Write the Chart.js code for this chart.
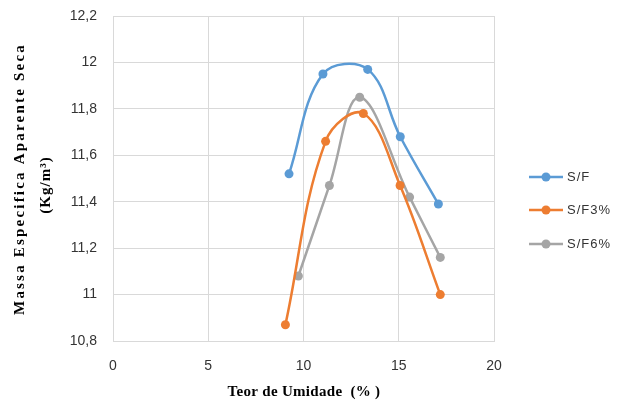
<!DOCTYPE html>
<html>
<head>
<meta charset="utf-8">
<script src="https://cdn.jsdelivr.net/npm/chart.js@4"></script>
<style>
html,body{margin:0;padding:0;background:#fff;}
#wrap{width:619px;height:406px;position:relative;}
</style>
</head>
<body>
<div id="wrap"><canvas id="c" width="619" height="406"></canvas></div>
<script>
// ---- data ----
const seriesNames = ["S/F", "S/F3%", "S/F6%"];
const xSF  = [9.24, 11.02, 13.37, 15.08, 17.08];
const ySF  = [11.52, 11.95, 11.97, 11.68, 11.39];
const xSF3 = [9.05, 11.16, 13.14, 15.07, 17.18];
const ySF3 = [10.87, 11.66, 11.78, 11.47, 11.00];
const xSF6 = [9.73, 11.36, 12.95, 15.57, 17.18];
const ySF6 = [11.08, 11.47, 11.85, 11.42, 11.16];
const xTicks = [0, 5, 10, 15, 20];
const yTicks = [10.8, 11, 11.2, 11.4, 11.6, 11.8, 12, 12.2];
const yTitle = ["Massa Especifica Aparente Seca", "(Kg/m³)"];
const xTitle = "Teor de Umidade  (% )";

const colors = ["#5B9BD5", "#ED7D31", "#A5A5A5"];
function pts(xs, ys){ return xs.map((x,i)=>({x:x, y:ys[i]})); }
const xsAll = [xSF, xSF3, xSF6], ysAll = [ySF, ySF3, ySF6];

const datasets = seriesNames.map((n,i)=>({
  label: n,
  data: pts(xsAll[i], ysAll[i]),
  borderColor: colors[i],
  backgroundColor: colors[i],
  borderWidth: 2.5,
  pointRadius: 4.5,
  pointHoverRadius: 4.5,
  pointBorderWidth: 0,
  showLine: true,
  tension: 0.38,
  fill: false
}));

const tickFont = {family: "'Liberation Sans', Arial, sans-serif", size: 14};
const tickColor = "#333333";
const gridColor = "#d9d9d9";

const titlesPlugin = {
  id: 'titles',
  afterDraw(chart){
    const ctx = chart.ctx;
    ctx.save();
    ctx.fillStyle = "#000";
    ctx.font = "bold 15px 'Liberation Serif', 'Times New Roman', serif";
    ctx.textAlign = "center";
    ctx.textBaseline = "middle";
    try { ctx.letterSpacing = "2.2px"; } catch(e){}
    // y title
    ctx.save();
    ctx.translate(20, 179);
    ctx.rotate(-Math.PI/2);
    ctx.fillText(yTitle[0], 0, 0);
    ctx.restore();
    try { ctx.letterSpacing = "1px"; } catch(e){}
    ctx.save();
    ctx.translate(46, 185);
    ctx.rotate(-Math.PI/2);
    ctx.fillText(yTitle[1], 0, 0);
    ctx.restore();
    try { ctx.letterSpacing = "0.3px"; } catch(e){}
    // x title
    ctx.fillText(xTitle, 304, 392);
    ctx.restore();
  }
};

const legendPlugin = {
  id: 'customLegend',
  afterDraw(chart){
    const ctx = chart.ctx;
    const ys = [177, 210, 244];
    ctx.save();
    chart.data.datasets.forEach((ds,i)=>{
      const y = ys[i];
      ctx.strokeStyle = ds.borderColor;
      ctx.lineWidth = 2.5;
      ctx.beginPath();
      ctx.moveTo(529, y);
      ctx.lineTo(563, y);
      ctx.stroke();
      ctx.fillStyle = ds.borderColor;
      ctx.beginPath();
      ctx.arc(546, y, 4.5, 0, Math.PI*2);
      ctx.fill();
      ctx.fillStyle = "#333333";
      ctx.font = "13px 'Liberation Sans', Arial, sans-serif";
      try { ctx.letterSpacing = "1px"; } catch(e){}
      ctx.textAlign = "left";
      ctx.textBaseline = "middle";
      ctx.fillText(ds.label, 567, y);
    });
    ctx.restore();
  }
};

new Chart(document.getElementById('c'), {
  type: 'scatter',
  data: { datasets },
  options: {
    responsive: false,
    animation: false,
    devicePixelRatio: 1,
    layout: { padding: { top: 16, right: 125, bottom: 0, left: 0 } },
    plugins: { legend: { display: false }, tooltip: { enabled: false } },
    elements: { line: { capBezierPoints: true } },
    scales: {
      x: {
        type: 'linear', min: 0, max: 20,
        afterBuildTicks: s => { s.ticks = xTicks.map(v=>({value:v})); },
        afterFit: s => { s.height = 406 - 341; s.paddingLeft = 0; s.paddingRight = 0; },
        ticks: { font: tickFont, color: tickColor, padding: 17, maxRotation: 0,
                 callback: v => String(v) },
        grid: { color: gridColor, lineWidth: 1, drawTicks: false },
        border: { color: gridColor, width: 1 }
      },
      y: {
        type: 'linear', min: 10.8, max: 12.2,
        afterBuildTicks: s => { s.ticks = yTicks.map(v=>({value:v})); },
        afterFit: s => { s.width = 113; s.paddingTop = 0; s.paddingBottom = 0; },
        ticks: { font: tickFont, color: tickColor, padding: 16,
                 callback: v => String(Math.round(v*10)/10).replace('.', ',') },
        grid: { color: gridColor, lineWidth: 1, drawTicks: false },
        border: { color: gridColor, width: 1 }
      }
    }
  },
  plugins: [titlesPlugin, legendPlugin]
});
</script>
</body>
</html>
